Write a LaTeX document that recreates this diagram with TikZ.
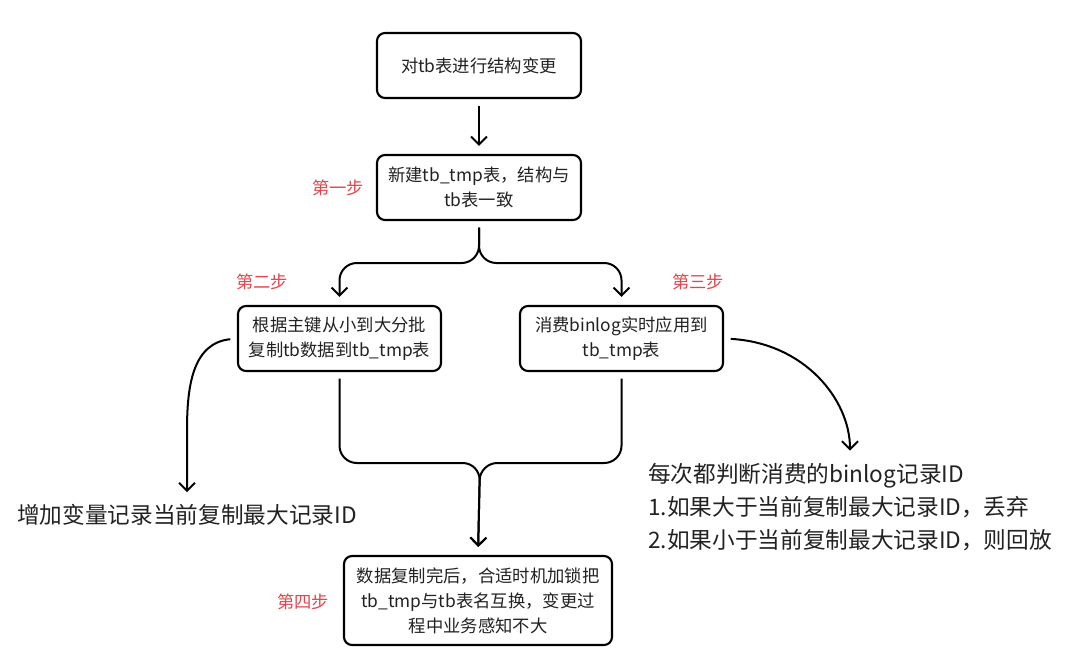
\documentclass[tikz,border=0pt]{standalone}
\usepackage{fontspec}
\setmainfont{Noto Sans CJK SC}
\usetikzlibrary{arrows.meta}
\definecolor{steptxt}{HTML}{E0474C}
\definecolor{maintxt}{HTML}{222222}
\begin{document}
\begin{tikzpicture}[x=0.75pt,y=-0.75pt,
  box/.style={draw=black,line width=1.6pt,rounded corners=6pt,align=center,
    font=\fontsize{13pt}{18.75pt}\selectfont,text=maintxt,inner sep=0pt},
  steplabel/.style={text=steptxt,font=\fontsize{13pt}{15pt}\selectfont,inner sep=0pt},
  note/.style={text=maintxt,font=\fontsize{17pt}{25pt}\selectfont,inner sep=0pt},
  conn/.style={line width=1.5pt,draw=black,shorten >=6pt,shorten <=5pt,
    -{Straight Barb[length=6pt,width=12pt]}}]
\useasboundingbox[fill=white] (0,0) rectangle (1080,653);

\node[box,minimum width=153pt,minimum height=48.75pt] (b1) at (479,65.5) {对tb表进行结构变更};
\node[box,minimum width=153pt,minimum height=48.75pt] (b2) at (479,187.5) {新建tb\_tmp表，结构与\\tb表一致};
\node[box,minimum width=152.25pt,minimum height=48.75pt] (b3) at (339.5,338.5) {根据主键从小到大分批\\复制tb数据到tb\_tmp表};
\node[box,minimum width=152.25pt,minimum height=48.75pt] (b4) at (621.5,338.5) {消费binlog实时应用到\\tb\_tmp表};
\node[box,minimum width=201pt,minimum height=66.75pt] (b5) at (478,600.5) {数据复制完后，合适时机加锁把\\tb\_tmp与tb表名互换，变更过\\程中业务感知不大};

\node[steplabel] (s1) at (338,188) {第一步};
\node[steplabel] (s2) at (262,282) {第二步};
\node[steplabel] (s3) at (698,282) {第三步};
\node[steplabel] (s4) at (303,602) {第四步};

\node[note] (lt) at (187,515) {增加变量记录当前复制最大记录ID};
\node[note,align=left] (rt) at (850,507) {每次都判断消费的binlog记录ID\\1.如果大于当前复制最大记录ID，丢弃\\2.如果小于当前复制最大记录ID，则回放};

\coordinate (split) at (479,263);
\coordinate (merge) at (480,463);

\draw[conn] (b1) -- (b2);
\draw[conn,rounded corners=13pt] (b2.south) -- (split) -| (b3.north);
\draw[conn,rounded corners=13pt] (b2.south) -- (split) -| (b4.north);
\draw[conn,rounded corners=13pt] (b3.south) |- (merge) -- (b5.north);
\draw[conn,rounded corners=13pt] (b4.south) |- (merge) -- (b5.north);

\draw[conn,shorten >=9pt] (b3.west) .. controls (193,343) and (187,385) .. (187,430) -- (lt.north);
\draw[conn,shorten >=9pt] (b4.east) .. controls (805,343) and (850,400) .. (rt.north);
\end{tikzpicture}
\end{document}
